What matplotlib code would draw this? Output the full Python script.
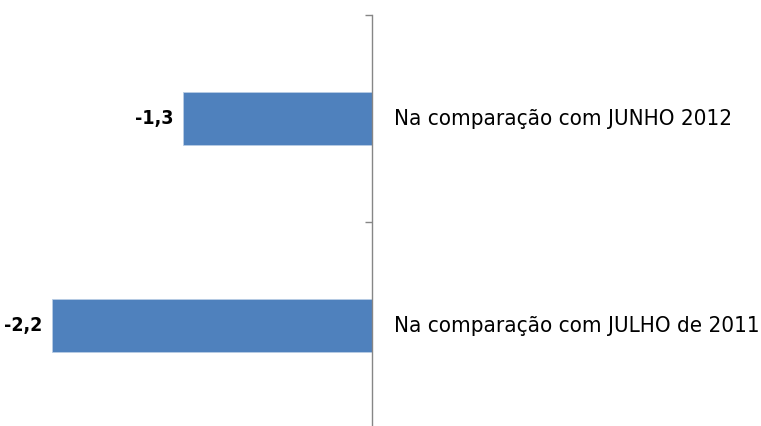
import matplotlib
matplotlib.use("Agg")
import matplotlib.pyplot as plt

# chart data (Excel-style horizontal bar, categories top to bottom)
categories = ["Na comparação com JUNHO 2012", "Na comparação com JULHO de 2011"]
values = [-1.3, -2.2]
value_labels = ["-1,3", "-2,2"]

plt.rcParams["font.family"] = ["DejaVu Sans"]
plt.rcParams["font.stretch"] = "condensed"

fig = plt.figure(figsize=(7.61, 4.26), dpi=100)
ax = fig.add_axes([0, -0.00704, 1, 0.9718])

ypos = list(range(len(categories)))
ax.barh(ypos, values, height=0.26, color="#4F81BD", edgecolor="#B9CDE5", linewidth=0.6)

ax.set_xlim(-2.560, 2.684)
ax.set_ylim(len(categories) - 0.5, -0.5)

# axis line at zero, ticks between categories
for side in ["top", "right", "bottom"]:
    ax.spines[side].set_visible(False)
ax.spines["left"].set_position(("data", 0))
ax.spines["left"].set_color("#868686")
ax.spines["left"].set_linewidth(1.0)
ax.set_xticks([])
ax.set_yticks([i - 0.5 for i in range(len(categories) + 1)])
ax.set_yticklabels([])
ax.tick_params(axis="y", direction="out", length=5, width=1.0, color="#868686")

for y, v, lab, cat in zip(ypos, values, value_labels, categories):
    ax.annotate(lab, (v, y), textcoords="offset points", xytext=(-7, 0),
                ha="right", va="center", fontsize=14, fontweight="bold",
                fontstretch="condensed")
    ax.text(0.155, y, cat, ha="left", va="center", fontsize=16,
            fontstretch="condensed")

fig.savefig("out.png", dpi=100)
